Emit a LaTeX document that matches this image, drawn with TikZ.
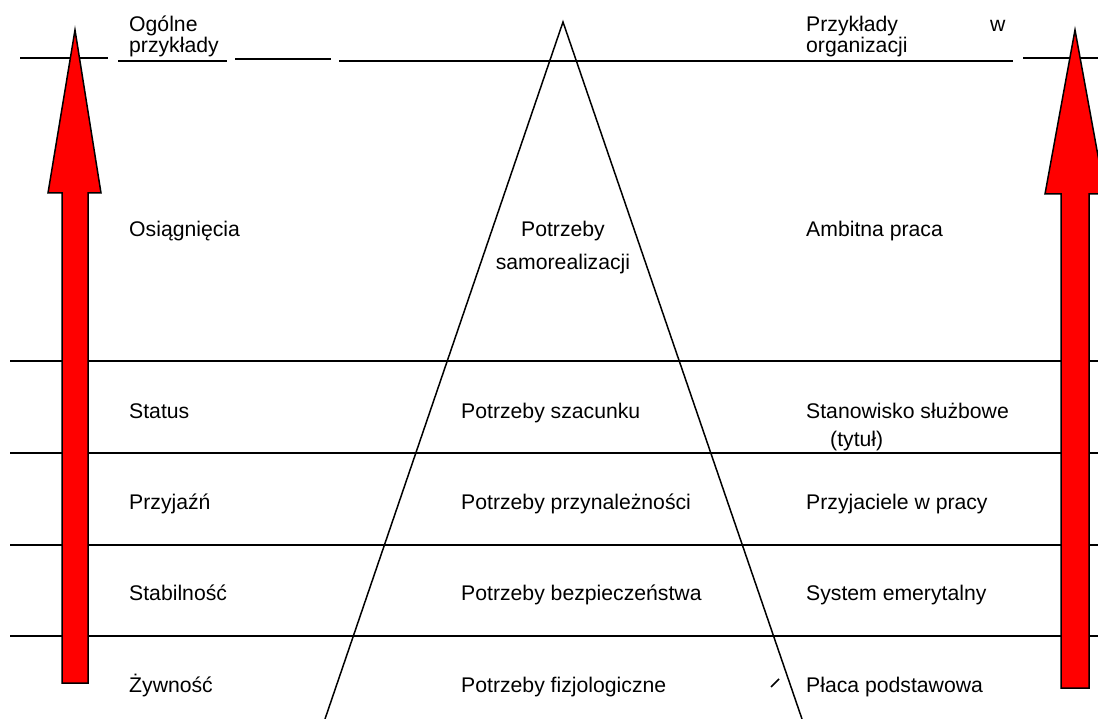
\documentclass[tikz,border=0pt]{standalone}
\usepackage{fontspec}
\setmainfont{Liberation Sans}
\begin{document}
\begin{tikzpicture}[x=1pt,y=-1pt,
  lbl/.style={anchor=base west,inner sep=0pt,font=\fontsize{21.2}{24}\selectfont},
  clbl/.style={anchor=base,inner sep=0pt,font=\fontsize{21.2}{24}\selectfont},
  rule/.style={line width=1.8pt},
  edge/.style={line width=1.5pt},
  uparrow/.style={fill=red,draw=black,line width=1.5pt,line join=miter}]
\useasboundingbox (0,0) rectangle (1098,719);

% header rules
\draw[rule] (20,58) -- (108,58);
\draw[rule] (118,61) -- (227,61);
\draw[rule] (235,59) -- (331,59);
\draw[rule] (339,61) -- (1013,61);
\draw[rule] (1023,58) -- (1098,58);

% row separators
\foreach \yy in {361,453,545,636}
  \draw[rule] (10,\yy) -- (1098,\yy);

% pyramid
\coordinate (apex) at (563,22);
\coordinate (bl) at (325,719);
\coordinate (br) at (802,719);
\draw[edge] (bl) -- (apex) -- (br);
\draw[edge] (771,687) -- (779,679);

% arrows
\draw[uparrow] (62,683) -- (62,193) -- (48,193) -- (75,30) -- (101,193) -- (88,193) -- (88,683) -- cycle;
\draw[uparrow] (1061,688) -- (1061,194) -- (1045,194) -- (1075,30) -- (1105,194) -- (1089,194) -- (1089,688) -- cycle;

% column headings
\node[lbl] (h1a) at (129,32) {Ogólne};
\node[lbl] (h1b) at (129,53) {przykłady};
\node[lbl] (h2a) at (806,32) {Przykłady};
\node[lbl] (h2w) at (990,32) {w};
\node[lbl] (h2b) at (806,53) {organizacji};

% row 1
\node[lbl] (g1) at (129,237) {Osiągnięcia};
\node[clbl] (p1a) at (563,237) {Potrzeby};
\node[clbl] (p1b) at (563,270) {samorealizacji};
\node[lbl] (o1) at (806,237) {Ambitna praca};

% row 2
\node[lbl] (g2) at (129,418) {Status};
\node[lbl] (p2) at (461,418) {Potrzeby szacunku};
\node[lbl] (o2) at (806,418) {Stanowisko służbowe};
\node[lbl] (o2b) at (830,446) {(tytuł)};

% row 3
\node[lbl] (g3) at (129,509) {Przyjaźń};
\node[lbl] (p3) at (461,509) {Potrzeby przynależności};
\node[lbl] (o3) at (806,509) {Przyjaciele w pracy};

% row 4
\node[lbl] (g4) at (129,600) {Stabilność};
\node[lbl] (p4) at (461,600) {Potrzeby bezpieczeństwa};
\node[lbl] (o4) at (806,600) {System emerytalny};

% row 5
\node[lbl] (g5) at (129,692) {Żywność};
\node[lbl] (p5) at (461,692) {Potrzeby fizjologiczne};
\node[lbl] (o5) at (806,692) {Płaca podstawowa};
\end{tikzpicture}
\end{document}
